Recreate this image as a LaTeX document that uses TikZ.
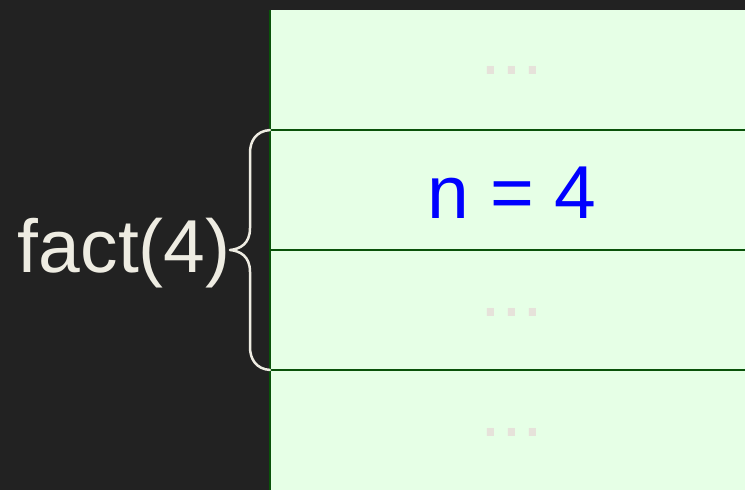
\documentclass[tikz,border=0pt]{standalone}
\usepackage{fontspec}
\setmainfont{Liberation Sans}
\usepackage{xcolor}
\usetikzlibrary{positioning}

\definecolor{bgdark}{RGB}{34,34,34}
\definecolor{rowfill}{RGB}{230,255,230}
\definecolor{rowline}{RGB}{10,82,10}
\definecolor{chalk}{RGB}{238,236,226}
\definecolor{dotgray}{RGB}{230,226,218}
\definecolor{valblue}{RGB}{0,0,255}

\begin{document}
\begin{tikzpicture}[x=1pt,y=-1pt, every node/.style={font=\fontsize{75}{90}\selectfont,inner sep=0pt,outer sep=0pt}, row/.style={fill=rowfill,minimum width=484pt,minimum height=120pt}, sep/.style={draw=rowline,line width=2.5pt}, dots/.style={text=dotgray,anchor=base}, val/.style={text=valblue,anchor=base}, brace/.style={draw=chalk,line width=2.5pt,line cap=round,line join=round}]
\fill[bgdark] (0,0) rectangle (745,490);
\useasboundingbox (0,0) rectangle (745,490);
% stack rows
\node[row,anchor=north west] (r1) at (270,10) {};
\node[row,below=0pt of r1] (r2) {};
\node[row,below=0pt of r2] (r3) {};
\node[row,below=0pt of r3] (r4) {};
\node[dots] (d1) at ([yshift=-4pt]r1.center) {...};
\node[val] (n) at ([yshift=-28pt]r2.center) {n = 4};
\node[dots] (d3) at ([yshift=-6pt]r3.center) {...};
\node[dots] (d4) at ([yshift=-6pt]r4.center) {...};
\draw[sep] (r1.south west) -- (r1.south east);
\draw[sep] (r2.south west) -- (r2.south east);
\draw[sep] (r3.south west) -- (r3.south east);
\draw[draw=rowline,line width=2pt] (r1.north west) -- (r4.south west);
% frame brace
\draw[brace] (r2.north west) .. controls +(-14,1) and +(0,-12) .. ++(-20,23) -- ++(0,75) .. controls +(0,16) and +(10,-1) .. ++(-20,22) coordinate (tip) .. controls +(10,1) and +(0,-16) .. ++(20,22) -- ++(0,75) .. controls +(0,12) and +(-14,-1) .. (r3.south west);
\node[text=chalk,anchor=base east] (fact) at ([xshift=0.5pt,yshift=-22pt]tip) {fact(4)};
\end{tikzpicture}
\end{document}
